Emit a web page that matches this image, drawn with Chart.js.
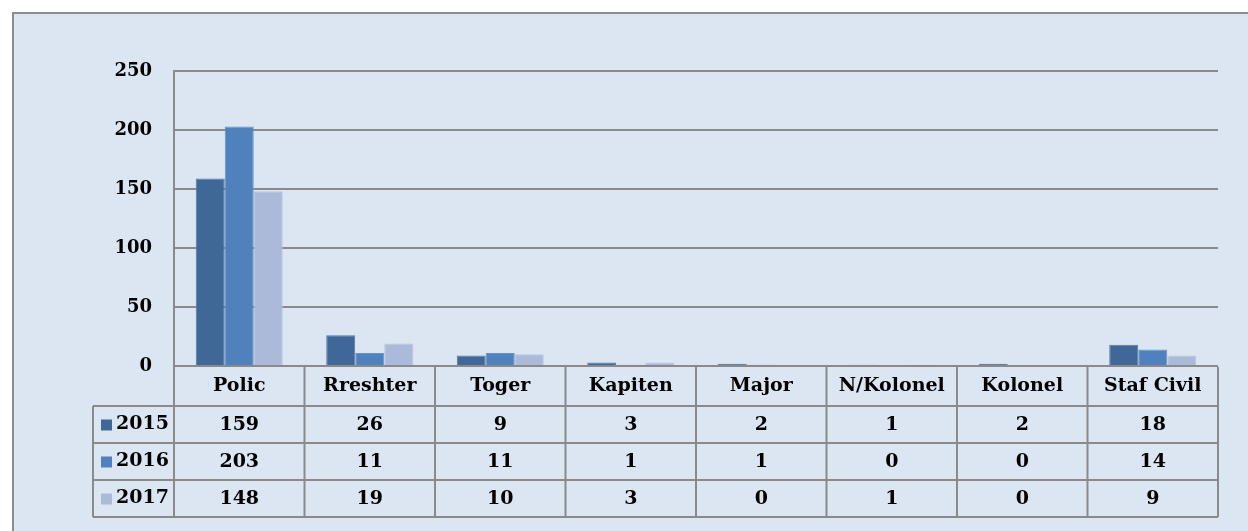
<!DOCTYPE html>
<html lang="en">
<head>
  <meta charset="UTF-8">
  <title>Bar chart with data table</title>
  <script src="https://cdn.jsdelivr.net/npm/chart.js"></script>
  <style>
    html, body { margin: 0; padding: 0; background: #fff; }
    #wrap { width: 1248px; height: 531px; }
  </style>
</head>
<body>
<div id="wrap"><canvas id="myChart" width="1248" height="531"></canvas></div>
<script>
  const categories = ['Polic', 'Rreshter', 'Toger', 'Kapiten', 'Major', 'N/Kolonel', 'Kolonel', 'Staf Civil'];
  const years = ['2015', '2016', '2017'];
  const values2015 = [159, 26, 9, 3, 2, 1, 2, 18];
  const values2016 = [203, 11, 11, 1, 1, 0, 0, 14];
  const values2017 = [148, 19, 10, 3, 0, 1, 0, 9];
  const yTicks = [0, 50, 100, 150, 200, 250];
  const colors = ['#3f6898', '#4f81bd', '#aabad8'];
  const edgeColors = ['#5479a6', '#6892c8', '#b9c6df'];

  const FONT = '"DejaVu Serif", serif';
  const gridColor = '#8a8a8a';

  const seriesValues = [values2015, values2016, values2017];

  // background panel + data table under the x axis
  const tablePlugin = {
    id: 'tablePlugin',
    beforeDraw(chart) {
      const ctx = chart.ctx;
      ctx.save();
      ctx.fillStyle = '#ffffff';
      ctx.fillRect(0, 0, chart.width, chart.height);
      ctx.fillStyle = '#dce6f2';
      ctx.fillRect(13, 13, chart.width, chart.height);
      ctx.strokeStyle = '#8c8c8c';
      ctx.lineWidth = 2;
      ctx.beginPath();
      ctx.moveTo(13, chart.height);
      ctx.lineTo(13, 13);
      ctx.lineTo(chart.width + 2, 13);
      ctx.stroke();
      ctx.restore();
    },
    afterDraw(chart) {
      const ctx = chart.ctx;
      const area = chart.chartArea;
      const x = chart.scales.x;
      const top = area.bottom;
      const headerBottom = top + 40;
      const rowH = 37;
      const legendLeft = 93;
      const bottom = headerBottom + rowH * years.length;
      const step = (area.right - area.left) / categories.length;

      ctx.save();
      ctx.strokeStyle = gridColor;
      ctx.lineWidth = 2;
      ctx.beginPath();
      // horizontal lines (top edge is the y grid line at 0)
      for (let r = 0; r <= years.length; r++) {
        const yy = headerBottom + r * rowH;
        ctx.moveTo(legendLeft, yy); ctx.lineTo(area.right, yy);
      }
      // vertical lines
      for (let c = 0; c <= categories.length; c++) {
        const xx = area.left + c * step;
        ctx.moveTo(xx, top + 1); ctx.lineTo(xx, bottom);
      }
      ctx.moveTo(legendLeft, headerBottom); ctx.lineTo(legendLeft, bottom);
      ctx.stroke();

      ctx.fillStyle = '#000';
      ctx.font = 'bold 19px ' + FONT;
      ctx.textAlign = 'center';
      ctx.textBaseline = 'middle';
      categories.forEach((cat, i) => {
        const cx = x.getPixelForValue(i);
        ctx.fillText(cat, cx, top + 20);
        seriesValues.forEach((vals, r) => {
          ctx.fillText(String(vals[i]), cx, headerBottom + r * rowH + rowH / 2 + 1);
        });
      });

      ctx.textAlign = 'left';
      years.forEach((yr, r) => {
        const cy = headerBottom + r * rowH + rowH / 2;
        ctx.fillStyle = colors[r];
        ctx.fillRect(101, cy - 5, 11, 11);
        ctx.fillStyle = '#000';
        ctx.fillText(yr, 116, cy);
      });
      ctx.restore();
    }
  };

  const ctx = document.getElementById('myChart').getContext('2d');
  new Chart(ctx, {
    type: 'bar',
    data: {
      labels: categories,
      datasets: years.map((yr, i) => ({
        label: yr,
        data: seriesValues[i],
        backgroundColor: colors[i],
        borderColor: edgeColors[i],
        borderWidth: 1,
        barPercentage: 1.0,
        categoryPercentage: 0.667
      }))
    },
    options: {
      responsive: false,
      animation: false,
      layout: { padding: { top: 71, right: 30, left: 0, bottom: 0 } },
      plugins: {
        legend: { display: false },
        tooltip: { enabled: false }
      },
      scales: {
        x: {
          grid: { display: false },
          border: { display: false },
          ticks: { display: false },
          afterFit(scale) { scale.height = 165; }
        },
        y: {
          min: 0,
          max: 250,
          afterBuildTicks(scale) { scale.ticks = yTicks.map(v => ({ value: v })); },
          grid: { color: gridColor, lineWidth: 2, drawTicks: false },
          border: { color: gridColor, width: 2 },
          ticks: {
            color: '#000',
            padding: 22,
            font: { family: FONT, size: 18, weight: 'bold' }
          },
          afterFit(scale) { scale.width = 174; }
        }
      }
    },
    plugins: [tablePlugin]
  });
</script>
</body>
</html>
